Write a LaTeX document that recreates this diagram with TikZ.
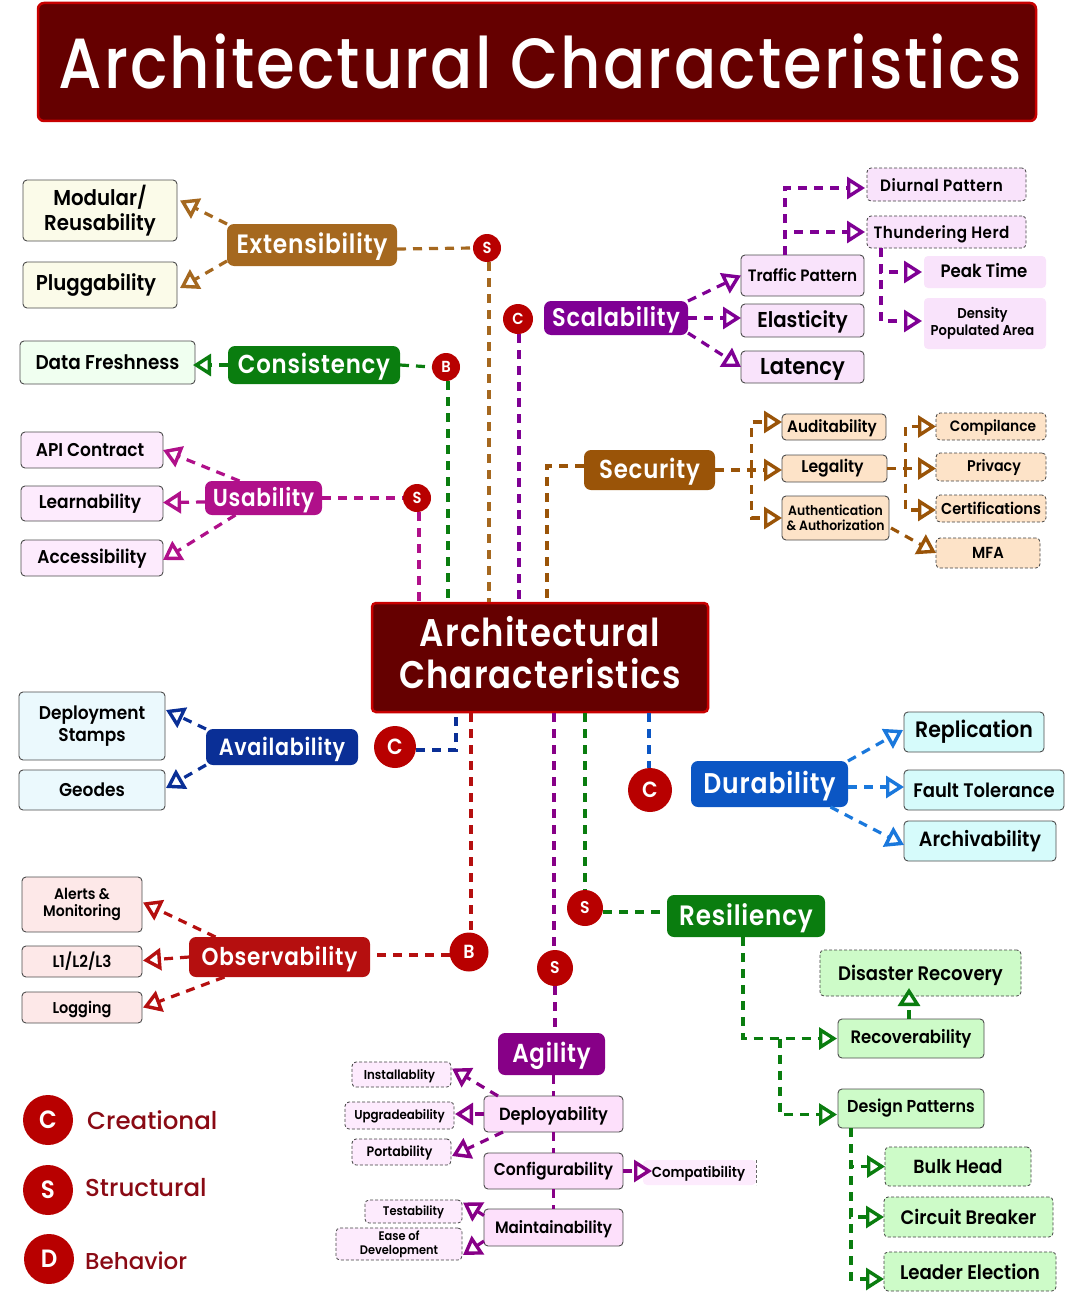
\documentclass[tikz,border=0pt]{standalone}
\usepackage{fontspec}
\usetikzlibrary{arrows.meta,calc}
\setmainfont{Poppins}[UprightFont=* SemiBold,BoldFont=* SemiBold,FakeStretch=0.92]
\newfontfamily\headf[LetterSpace=3,FakeStretch=0.88]{Poppins SemiBold}
\newfontfamily\titlef[LetterSpace=3,FakeStretch=0.88]{Poppins Medium}
\newfontfamily\legf{Poppins Medium}
\definecolor{titlebg}{HTML}{650000}
\definecolor{titleline}{HTML}{C80000}
\definecolor{badge}{HTML}{B80000}
\definecolor{brownE}{HTML}{A5681F}
\definecolor{greenC}{HTML}{0A7D0F}
\definecolor{magU}{HTML}{B0108A}
\definecolor{purpS}{HTML}{7F0094}
\definecolor{brownS}{HTML}{9A5408}
\definecolor{blueA}{HTML}{0A2F96}
\definecolor{blueD}{HTML}{0B56C4}
\definecolor{blueL}{HTML}{1A78DC}
\definecolor{redO}{HTML}{B50F0F}
\definecolor{purpA}{HTML}{870087}
\definecolor{legendtx}{HTML}{8A0A14}
\definecolor{fillE}{HTML}{FBFBE9}
\definecolor{fillC}{HTML}{F0FFF0}
\definecolor{fillU}{HTML}{FDEBFD}
\definecolor{fillS}{HTML}{F9E3FB}
\definecolor{fillB}{HTML}{FDE3C8}
\definecolor{fillD}{HTML}{EBF9FD}
\definecolor{fillR}{HTML}{D6FBFB}
\definecolor{fillO}{HTML}{FDE8E8}
\definecolor{fillA}{HTML}{FDE0FB}
\definecolor{fillG}{HTML}{CDFBC8}
\newcommand{\lfs}[1]{\fontsize{#1}{\fpeval{#1*1.15}}\selectfont}
\newcommand{\nudge}[3]{\raisebox{\dimexpr-#2pt\relax}[\height][\depth]{\kern#1pt #3\kern-#1pt}}
\newcommand{\hd}[2]{\raisebox{-2pt}[\height][\depth]{\fontsize{#1}{#1}\selectfont\headf #2}}
\tikzset{
  bxbase/.style={rounded corners=4pt,inner sep=0pt,outer sep=0pt,align=center,text=black},
  fs/.style={font=\lfs{#1}},
  leaf/.style={bxbase,draw=black!70,line width=.9pt,fill=#1},
  dleaf/.style={bxbase,draw=black!75,line width=.8pt,densely dashed,fill=#1},
  plain/.style={bxbase,fill=#1},
  head/.style={bxbase,rounded corners=7pt,fill=#1,text=white},
  badgec/.style={circle,fill=badge,text=white,inner sep=0pt,outer sep=0pt,minimum size=#1,font=\bfseries\fontsize{16}{16}\selectfont},
  link/.style={draw=#1,line width=3.2pt,dash pattern=on 9pt off 7pt},
  arr/.style={link=#1,-{Triangle[fill=white,length=18pt,width=22pt,line width=3.4pt]}},
}
\newcommand{\Bx}[7][]{\node[#2,#1,minimum width={#4-#3},minimum height={#6-#5}] at ({(#3+#4)/2},{(#5+#6)/2}) #7}
\begin{document}
\begin{tikzpicture}[x=1pt,y=-1pt]
\useasboundingbox (0,0) rectangle (1080,1311);
% title
\node[fill=titlebg,draw=titleline,line width=2.5pt,rounded corners=6pt,minimum width=998pt,minimum height=118pt,inner sep=0pt,text=white] (title) at (537,62) {\nudge{3}{-1}{\fontsize{71}{71}\selectfont\titlef Architectural Characteristics}};
% centre
\node[fill=titlebg,draw=titleline,line width=2.5pt,rounded corners=4pt,minimum width=336pt,minimum height=109pt,inner sep=0pt,text=white,align=center,font=\fontsize{38.5}{40}\selectfont\headf] (center) at (540,657.5) {Architectural\\[2pt]Characteristics\\[-30pt]\mbox{}};
% Extensibility
\Bx[fs=21.5]{leaf=fillE}{23}{177}{180}{241}{(mod) {Modular/\\Reusability};}
\Bx[fs=21.5]{leaf=fillE}{23}{177}{262}{308}{(plug) {\nudge{-4}{0}{Pluggability}};}
\Bx{head=brownE}{227}{397}{224}{266}{(ext) {\hd{26.5}{Extensibility}};}
\node[badgec=28pt] (sExt) at (487,248) {S};
% Consistency
\Bx[fs=20]{leaf=fillC}{20}{195}{341}{384}{(fresh) {Data Freshness};}
\Bx{head=greenC}{228}{400}{346}{384}{(cons) {\hd{26}{Consistency}};}
\node[badgec=28pt] (bCons) at (446,367) {B};
% Usability
\Bx[fs=18.5]{leaf=fillU}{21}{163}{432}{468}{(api) {\nudge{-2}{0}{API Contract}};}
\Bx[fs=18.5]{leaf=fillU}{21}{163}{486}{521}{(learn) {\nudge{-2}{0}{Learnability}};}
\Bx[fs=18.5]{leaf=fillU}{21}{163}{540}{576}{(access) {\nudge{0}{1}{Accessibility}};}
\Bx{head=magU}{205}{322}{481}{515}{(usab) {\hd{24.5}{Usability}};}
\node[badgec=28pt] (sUs) at (417,498) {S};
% Scalability
\node[badgec=30pt] (cScal) at (518,319) {C};
\Bx{head=purpS}{544}{688}{301}{335}{(scal) {\hd{25.5}{Scalability}};}
\Bx[fs=16.5]{leaf=fillS}{741}{864}{255}{296}{(traffic) {Traffic Pattern};}
\Bx[fs=21.5]{leaf=fillS}{741}{864}{304}{337}{(elast) {\nudge{0}{1}{Elasticity}};}
\Bx[fs=23]{leaf=fillS}{741}{864}{351}{383}{(laten) {\nudge{0}{2}{Latency}};}
\Bx[fs=16.5]{dleaf=fillS}{867}{1026}{168}{201}{(diurnal) {\nudge{-5}{1}{\addfontfeature{LetterSpace=3}Diurnal Pattern}};}
\Bx[fs=16.5]{dleaf=fillS}{867}{1026}{216}{248}{(thunder) {\nudge{-5}{2}{\addfontfeature{LetterSpace=3}Thundering Herd}};}
\Bx[fs=18]{plain=fillS}{924}{1046}{256}{288}{(peak) {\nudge{-1}{-1.5}{Peak Time}};}
\Bx[fs=14.3]{plain=fillS}{924}{1046}{298}{349}{(density) {\kern-5pt\begin{tabular}{@{}c@{}}Density\\Populated Area\end{tabular}};}
% Security
\Bx{head=brownS}{584}{715}{450}{490}{(sec) {\hd{26}{Security}};}
\Bx[fs=16.5]{leaf=fillB}{782}{886}{414}{440}{(audit) {\nudge{-2}{1.5}{Auditability}};}
\Bx[fs=17]{leaf=fillB}{782}{887}{455}{482}{(legal) {\nudge{-2}{0}{Legality}};}
\Bx[fs=13.5]{leaf=fillB}{782}{889}{496}{540}{(auth) {Authentication\\\& Authorization};}
\Bx[fs=15]{dleaf=fillB}{936}{1046}{413}{440}{(compil) {\nudge{2}{1}{Compilance}};}
\Bx[fs=15.5]{dleaf=fillB}{936}{1046}{453}{481}{(priv) {\nudge{3}{0.5}{Privacy}};}
\Bx[fs=15.8]{dleaf=fillB}{936}{1046}{495}{522}{(cert) {Certifications};}
\Bx[fs=16]{dleaf=fillB}{936}{1040}{538}{568}{(mfa) {MFA};}
% Availability
\Bx[fs=18.5]{leaf=fillD}{19}{165}{692}{760}{(stamps) {Deployment\\Stamps};}
\Bx[fs=18.5]{leaf=fillD}{19}{165}{770}{810}{(geodes) {Geodes};}
\Bx{head=blueA}{206}{358}{729}{765}{(avail) {\hd{23.5}{Availability}};}
\node[badgec=42pt,font=\bfseries\fontsize{22}{22}\selectfont] (cAv) at (395,747) {C};
% Durability
\node[badgec=44pt,font=\bfseries\fontsize{22}{22}\selectfont] (cDur) at (650,790) {C};
\Bx{head=blueD}{691}{848}{761}{807}{(dur) {\hd{28.5}{Durability}};}
\Bx[fs=22.3]{leaf=fillR}{904}{1044}{712}{752}{(repl) {Replication};}
\Bx[fs=19.6]{leaf=fillR}{904}{1064}{770}{810}{(fault) {Fault Tolerance};}
\Bx[fs=20.6]{leaf=fillR}{904}{1056}{821}{861}{(arch) {Archivability};}
% Observability
\Bx[fs=15.3]{leaf=fillO}{22}{142}{877}{932}{(alerts) {Alerts \&\\Monitoring};}
\Bx[fs=16.5]{leaf=fillO}{22}{142}{946}{977}{(lone) {L1/L2/L3};}
\Bx[fs=15.7]{leaf=fillO}{22}{142}{992}{1023}{(logg) {\nudge{0}{1.5}{Logging}};}
\Bx{head=redO}{189}{370}{937}{977}{(obs) {\hd{24.5}{Observability}};}
\node[badgec=39pt,font=\bfseries\fontsize{19}{19}\selectfont] (bObs) at (469,952) {B};
% Resiliency
\node[badgec=36pt,font=\bfseries\fontsize{17}{17}\selectfont] (sRes) at (585,908) {S};
\Bx{head=greenC}{667}{825}{895}{937}{(res) {\hd{28}{Resiliency}};}
\Bx[fs=19.6]{dleaf=fillG}{820}{1021}{950}{996}{(disas) {\nudge{0}{2.5}{Disaster Recovery}};}
\Bx[fs=18]{leaf=fillG}{838}{984}{1019}{1058}{(recov) {Recoverability};}
\Bx[fs=17.3]{leaf=fillG}{838}{984}{1089}{1128}{(design) {Design Patterns};}
\Bx[fs=19]{dleaf=fillG}{885}{1031}{1147}{1186}{(bulk) {Bulk Head};}
\Bx[fs=19.5]{dleaf=fillG}{884}{1053}{1197}{1237}{(circ) {Circuit Breaker};}
\Bx[fs=19.8]{dleaf=fillG}{884}{1056}{1252}{1291}{(leader) {Leader Election};}
% Agility
\node[badgec=36pt,font=\bfseries\fontsize{17}{17}\selectfont] (sAg) at (555,968) {S};
\Bx{head=purpA}{498}{605}{1033}{1075}{(agil) {\hd{26}{Agility}};}
\Bx[fs=17.6]{leaf=fillA}{484}{623}{1096}{1132}{(deploy) {\nudge{0}{1.5}{Deployability}};}
\Bx[fs=17]{leaf=fillA}{484}{623}{1153}{1189}{(config) {Configurability};}
\Bx[fs=16.5]{leaf=fillA}{484}{623}{1209}{1246}{(maint) {\nudge{0}{1.5}{Maintainability}};}
\Bx[fs=12.9]{dleaf=fillU}{352}{451}{1062}{1087}{(install) {\nudge{-2}{1.5}{Installablity}};}
\Bx[fs=12.9]{dleaf=fillU}{345}{454}{1102}{1129}{(upg) {\nudge{0}{1}{Upgradeability}};}
\Bx[fs=13.7]{dleaf=fillU}{352}{451}{1139}{1165}{(port) {\nudge{-2}{1}{Portability}};}
\Bx[fs=14.5]{plain=fillU}{643}{756}{1160}{1185}{(compat) {\nudge{-1}{1.5}{Compatibility}};}
\draw[black!60,densely dashed,line width=.8pt] (compat.north east) -- (compat.south east);
\Bx[fs=12.5]{dleaf=fillU}{365}{462}{1200}{1223}{(test) {\nudge{0}{1}{Testability}};}
\Bx[fs=12.4]{dleaf=fillU}{336}{462}{1228}{1260}{(ease) {Ease of\\Development};}
% Legend
\node[badgec=50pt,font=\bfseries\fontsize{25}{25}\selectfont] (lC) at (48,1120) {C};
\node[badgec=50pt,font=\bfseries\fontsize{25}{25}\selectfont] (lS) at (48,1190) {S};
\node[badgec=50pt,font=\bfseries\fontsize{25}{25}\selectfont] (lD) at (49,1259) {D};
\node[anchor=west,inner sep=0pt,text=legendtx,font=\fontsize{24.5}{25}\selectfont\legf] (tC) at (87,1120) {Creational};
\node[anchor=west,inner sep=0pt,text=legendtx,font=\fontsize{24.5}{25}\selectfont\legf] (tS) at (85,1188) {Structural};
\node[anchor=west,inner sep=0pt,text=legendtx,font=\fontsize{23}{25}\selectfont\legf] (tD) at (85,1261) {Behavior};
% connectors: Extensibility
\draw[arr=brownE] (ext.north west) -- ([xshift=3pt,yshift=10pt]mod.east);
\draw[arr=brownE] ([yshift=-16pt]ext.west) -- ([xshift=3pt,yshift=-3pt]plug.east);
\draw[link=brownE] ([yshift=-4pt]ext.east) -- (sExt.west);
\coordinate (sx) at ([xshift=2pt]sExt.south);
\draw[link=brownE] (sx) -- (sx |- center.north);
% Consistency
\draw[arr=greenC] (cons.west) -- ([xshift=-2pt]cons.west -| fresh.east);
\draw[link=greenC] (cons.east) -- (bCons.west);
\coordinate (bx) at ([xshift=2pt]bCons.south);
\draw[link=greenC] (bx) -- (bx |- center.north);
% Usability
\draw[arr=magU] ([xshift=-24pt]usab.north) -- (api.east);
\draw[arr=magU] ([yshift=-4pt]usab.west) -- ([yshift=1pt]learn.east);
\draw[arr=magU] ([xshift=-28pt]usab.south) -- ([yshift=-2pt]access.east);
\draw[link=magU] (usab.east) -- (sUs.west);
\coordinate (ux) at ([xshift=2pt]sUs.south);
\draw[link=magU] (ux) -- (ux |- center.north);
% Scalability
\coordinate (cx) at ([xshift=1pt]cScal.south);
\draw[link=purpS] (cx) -- (cx |- center.north);
\draw[arr=purpS] (scal.north east) -- (traffic.west);
\draw[arr=purpS] (scal.east) -- (scal.east -| elast.west);
\draw[arr=purpS] ([yshift=2pt]scal.south east) -- (laten.west);
\coordinate (tp) at ([xshift=-17.5pt]traffic.north);
\draw[arr=purpS] (tp) |- ([xshift=-2pt,yshift=-3.5pt]diurnal.west);
\draw[arr=purpS] (tp) |- ([xshift=-2pt]thunder.west);
\coordinate (th) at ([xshift=-65.5pt]thunder.south);
\draw[arr=purpS] (th) |- ([xshift=-2pt]peak.west);
\draw[arr=purpS] (th) |- ([xshift=-2pt,yshift=2.5pt]density.west);
% Security
\coordinate (secx) at ([xshift=7pt]center.north);
\draw[link=brownS] ([yshift=4pt]sec.west) -| (secx);
\draw[arr=brownS] (sec.east) -- (sec.east -| legal.west);
\coordinate (secj) at ($(sec.east)!.55!(legal.west)$);
\draw[arr=brownS] (secj) |- ([yshift=5pt]audit.west);
\draw[arr=brownS] (secj) |- (auth.west);
\draw[arr=brownS] (legal.east) -- (legal.east -| priv.west);
\coordinate (legj) at ($(legal.east)!.37!(priv.west)$);
\draw[arr=brownS] (legj) |- (compil.west);
\draw[arr=brownS] (legj) |- ([yshift=-1.5pt]cert.west);
\draw[arr=brownS] ([xshift=2pt,yshift=-10pt]auth.east) -- (mfa.west);
% Availability
\draw[arr=blueA] (avail.north west) -- ([xshift=1pt,yshift=16pt]stamps.east);
\draw[arr=blueA] (avail.south west) -- ([xshift=1pt,yshift=2pt]geodes.east);
\coordinate (ax) at ([xshift=-84pt]center.south);
\draw[link=blueA] ([yshift=-3pt]cAv.east) -| (ax);
% Durability
\coordinate (dx) at ([xshift=109pt]center.south);
\draw[link=blueD] (dx) -- (dx |- cDur.north);
\draw[arr=blueL] (dur.north east) -- ([xshift=-1pt,yshift=2pt]repl.west);
\draw[arr=blueL] ([yshift=-3pt]dur.east) -- ([yshift=3pt]fault.west);
\draw[arr=blueL] ([xshift=61pt]dur.south) -- ([yshift=-4pt]arch.west);
% Observability
\coordinate (ox) at ([xshift=-69pt]center.south);
\draw[link=redO] (ox) -- (ox |- bObs.north);
\draw[link=redO] ([yshift=-3pt]bObs.west) -- ([yshift=-3pt]bObs.west -| obs.east);
\draw[arr=redO] ([xshift=-64pt]obs.north) -- ([xshift=1pt,yshift=2pt]alerts.east);
\draw[arr=redO] (obs.west) -- ([xshift=1pt,yshift=1pt]lone.east);
\draw[arr=redO] ([xshift=-55pt]obs.south) -- ([xshift=1pt]logg.east);
% Resiliency
\coordinate (rsx) at ([xshift=45pt]center.south);
\draw[link=greenC] (rsx) -- (rsx |- sRes.north);
\draw[link=greenC] ([yshift=-4pt]sRes.east) -- ([yshift=-4pt]sRes.east -| res.west);
\draw[arr=greenC] ([xshift=-3pt]res.south) |- ([xshift=-1pt]recov.west);
\coordinate (rj) at ([xshift=-58pt]recov.west);
\draw[arr=greenC] (rj) |- ([xshift=-1pt,yshift=-6pt]design.west);
\coordinate (rx) at ([xshift=-2pt]recov.north);
\coordinate (rt) at ([yshift=8pt]disas.south);
\draw[arr=greenC] (rx) -- (rx |- rt);
\coordinate (dj) at ([xshift=-60pt]design.south);
\draw[arr=greenC] (dj) |- (bulk.west);
\draw[arr=greenC] (dj) |- (circ.west);
\draw[arr=greenC] (dj) |- ([yshift=-7.5pt]leader.west);
% Agility
\coordinate (gx) at ([xshift=14pt]center.south);
\draw[link=purpA] (gx) -- (gx |- sAg.north);
\draw[link=purpA] (sAg.south) -- (sAg.south |- agil.north);
\draw[link=purpA] (deploy.north |- agil.south) -- (deploy.north);
\draw[link=purpA] (deploy.south) -- (config.north);
\draw[link=purpA] (config.south) -- (maint.north);
\draw[arr=purpA] ([xshift=14pt]deploy.north west) -- ([xshift=1pt,yshift=6pt]install.east);
\draw[arr=purpA] (deploy.west) -- ([xshift=1pt]deploy.west -| upg.east);
\draw[arr=purpA] ([xshift=19pt]deploy.south west) -- ([xshift=1pt,yshift=-4pt]port.east);
\draw[arr=purpA] (config.east) -- ([xshift=9pt]config.east -| compat.west);
\draw[arr=purpA] ([yshift=12pt]maint.west) -- ([xshift=1pt,yshift=9pt]test.east);
\draw[arr=purpA] ([yshift=-13.5pt]maint.west) -- ([xshift=1pt,yshift=-11pt]ease.east);
\end{tikzpicture}
\end{document}
